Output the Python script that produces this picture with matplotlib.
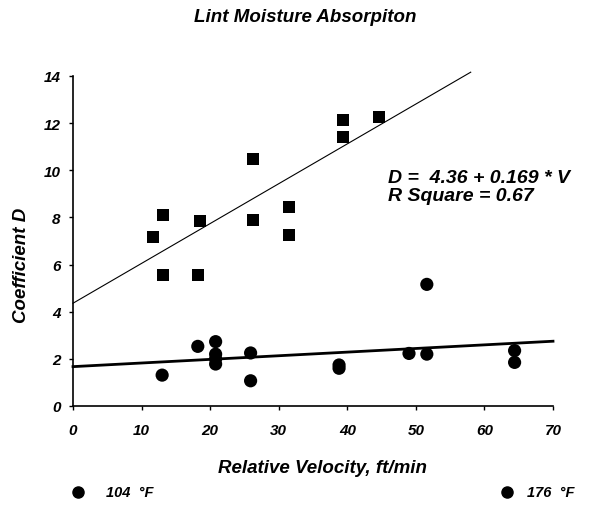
import numpy as np
import matplotlib
matplotlib.use('Agg')
import matplotlib.pyplot as plt

plt.rcParams['font.family'] = ['Liberation Sans', 'DejaVu Sans']

# 104 F series (squares)
v_104 = [11.7, 13.1, 13.1, 18.5, 18.2, 26.3, 26.3, 31.5, 31.5, 39.4, 39.4, 44.6]
d_104 = [7.17, 8.10, 5.56, 7.85, 5.56, 10.48, 7.89, 8.44, 7.26, 12.13, 11.41, 12.26]

# 176 F series (circles)
v_176 = [13.0, 18.2, 20.8, 20.8, 20.8, 20.8, 25.9, 25.9, 38.8, 38.8, 49.0, 51.6, 51.6, 64.4, 64.4]
d_176 = [1.31, 2.53, 2.73, 2.20, 2.00, 1.78, 2.25, 1.07, 1.74, 1.60, 2.23, 5.16, 2.20, 2.35, 1.85]

# fitted lines: intercept, slope, x range
fit_104 = (4.36, 0.169, 0, 58)
fit_176 = (1.67, 0.0154, 0, 70)

x_ticks = [0, 10, 20, 30, 40, 50, 60, 70]
y_ticks = [0, 2, 4, 6, 8, 10, 12, 14]

fig = plt.figure(figsize=(5.9, 5.06), dpi=100)
ax = fig.add_axes([73 / 590, 1 - 407 / 506, 480 / 590, 330 / 506])

bi = dict(fontweight='bold', fontstyle='italic')

ax.scatter(v_104, d_104, marker='s', s=75, c='black', edgecolors='none', zorder=3)
ax.scatter(v_176, d_176, marker='o', s=90, c='black', edgecolors='none', zorder=3)

a, b, x0, x1 = fit_104
xs = np.array([x0, x1])
ax.plot(xs, a + b * xs, color='black', lw=0.8, clip_on=False)
a, b, x0, x1 = fit_176
xs = np.array([x0, x1])
ax.plot(xs, a + b * xs, color='black', lw=2.0, clip_on=False)

ax.set_xlim(0, 70)
ax.set_ylim(0, 14)
ax.set_xticks(x_ticks)
ax.set_yticks(y_ticks)
ax.set_xticklabels([str(t) for t in x_ticks], fontsize=11, **bi)
ax.set_yticklabels([str(t) for t in y_ticks], fontsize=11, **bi)
ax.tick_params(direction='out', length=3, width=1)
ax.tick_params(axis='x', pad=9)
ax.tick_params(axis='y', pad=6)
for s in ['top', 'right']:
    ax.spines[s].set_visible(False)
for s in ['left', 'bottom']:
    ax.spines[s].set_linewidth(1.2)

ax.set_xlabel('Relative Velocity, ft/min', fontsize=13.5, **bi)
ax.xaxis.set_label_coords(0.52, -0.16)
ax.set_ylabel('Coefficient D', fontsize=13.5, **bi)
ax.yaxis.set_label_coords(-0.09, 0.43)

fig.text(305 / 590, 1 - 18 / 506, 'Lint Moisture Absorpiton', ha='center', va='center',
         fontsize=13.5, **bi)

ax.text(388 / 590, 1 - 179 / 506, 'D =  4.36 + 0.169 * V', transform=fig.transFigure,
        fontsize=14, va='center', ha='left', **bi)
ax.text(388 / 590, 1 - 197 / 506, 'R Square = 0.67', transform=fig.transFigure,
        fontsize=14, va='center', ha='left', **bi)

# legend entries
for mx, tx, label in [(78, 106, '104  °F'), (507, 527, '176  °F')]:
    fig.lines.append(plt.Line2D([mx / 590], [1 - 493 / 506], marker='o', markersize=8,
                                color='black', transform=fig.transFigure))
    fig.text(tx / 590, 1 - 493 / 506, label, va='center', ha='left', fontsize=10.5, **bi)

fig.savefig('out.png', dpi=100, facecolor='white')
